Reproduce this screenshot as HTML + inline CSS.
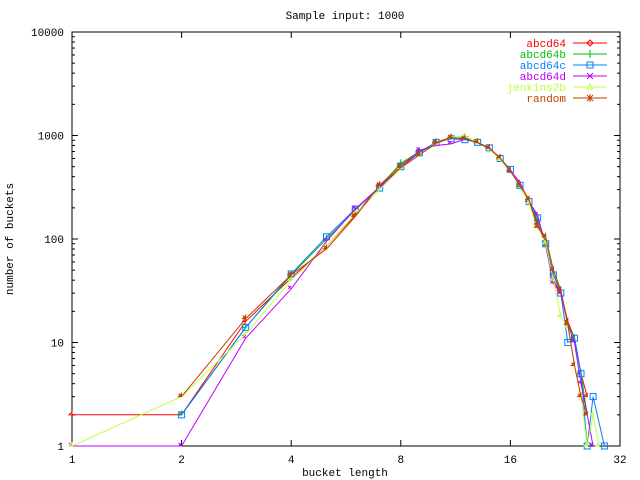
<!DOCTYPE html>
<html><head><meta charset="utf-8">
<style>
html,body{margin:0;padding:0;background:#fff;}
svg{display:block;font-family:"Liberation Mono",monospace;font-size:11px;}
</style></head>
<body>
<svg id="s" width="640" height="480" xmlns="http://www.w3.org/2000/svg"></svg>
<script>
const L=72,R=620,T=32,B=446;
const X=n=>L+109.6*Math.log2(n);
const Y=v=>B-103.5*Math.log10(v);
let h='<rect width="640" height="480" fill="#fff"/>';
h+=`<rect x="${L}" y="${T}" width="${R-L}" height="${B-T}" fill="none" stroke="#000" stroke-width="1"/>`;
// y ticks
for(let d=0;d<=4;d++){
  const v=Math.pow(10,d),y=Y(v);
  h+=`<line x1="${L}" y1="${y}" x2="${L+6}" y2="${y}" stroke="#000"/><line x1="${R}" y1="${y}" x2="${R-6}" y2="${y}" stroke="#000"/>`;
  h+=`<text x="${L-8}" y="${y+4}" text-anchor="end">${v}</text>`;
  if(d<4)for(let k=2;k<10;k++){const yy=Y(v*k);
    h+=`<line x1="${L}" y1="${yy}" x2="${L+3}" y2="${yy}" stroke="#000"/><line x1="${R}" y1="${yy}" x2="${R-3}" y2="${yy}" stroke="#000"/>`;}
}
// x ticks
for(let p=0;p<=5;p++){const v=1<<p,x=X(v);
  h+=`<line x1="${x}" y1="${B}" x2="${x}" y2="${B-6}" stroke="#000"/><line x1="${x}" y1="${T}" x2="${x}" y2="${T+6}" stroke="#000"/>`;
  h+=`<text x="${x}" y="${B+17}" text-anchor="middle">${v}</text>`;}
h+=`<text x="345" y="19" text-anchor="middle">Sample input: 1000</text>`;
h+=`<text x="345" y="476" text-anchor="middle">bucket length</text>`;
h+=`<text transform="translate(13,239) rotate(-90)" text-anchor="middle">number of buckets</text>`;
const S=[
["abcd64","#ff0000","d",{1:2,2:2,3:16,4:42,5:85,6:170,7:330,8:520,9:690,10:860,11:960,12:920,13:860,14:760,15:600,16:450,17:330,18:240,19:140,20:90,21:40,22:30,23:16,24:11,25:5,26:3}],
["abcd64b","#00c000","p",{2:2,3:14,4:45,5:100,6:190,7:320,8:540,9:700,10:850,11:940,12:950,13:850,14:740,15:590,16:460,17:320,18:230,19:150,20:95,21:45,22:32,23:15,24:11,25:5,26:2}],
["abcd64c","#0080ff","s",{2:2,3:14,4:46,5:105,6:195,7:310,8:500,9:680,10:860,11:930,12:910,13:860,14:760,15:600,16:470,17:330,18:230,19:160,20:90,21:45,22:30,23:10,24:11,25:5,26:1,27:3,29:1}],
["abcd64d","#c000ff","x",{1:1,2:1,3:11,4:33,5:95,6:195,7:320,8:480,9:720,10:800,11:830,12:920,13:860,14:740,15:590,16:460,17:350,18:230,19:170,20:85,21:37,22:30,23:15,24:10,25:4,26:2,27:1}],
["jenkins2b","#c0ff40","t",{1:1,2:3,3:12,4:40,5:85,6:175,7:300,8:480,9:650,10:830,11:960,12:990,13:870,14:740,15:580,16:450,17:330,18:220,19:130,20:90,21:40,22:18,23:14,24:6,25:3,26:1,27:2,28:1}],
["random","#c04000","a",{2:3,3:17,4:45,5:80,6:165,7:330,8:490,9:650,10:840,11:950,12:930,13:860,14:750,15:610,16:450,17:330,18:240,19:130,20:105,21:50,22:32,23:15,24:6,25:3,26:2}]
];
function mk(t,x,y,c){
  if(t=="d")return `<path d="M${x-3} ${y}L${x} ${y-3}L${x+3} ${y}L${x} ${y+3}Z" fill="none" stroke="${c}"/>`;
  if(t=="p")return `<path d="M${x-4} ${y}H${x+4}M${x} ${y-4}V${y+4}" stroke="${c}"/>`;
  if(t=="s")return `<rect x="${x-3}" y="${y-3}" width="6" height="6" fill="none" stroke="${c}"/>`;
  if(t=="x")return `<path d="M${x-3} ${y-3}L${x+3} ${y+3}M${x-3} ${y+3}L${x+3} ${y-3}" stroke="${c}"/>`;
  if(t=="t")return `<path d="M${x-3} ${y+2}L${x} ${y-3}L${x+3} ${y+2}Z" fill="none" stroke="${c}"/>`;
  return `<path d="M${x-4} ${y}H${x+4}M${x} ${y-4}V${y+4}M${x-3} ${y-3}L${x+3} ${y+3}M${x-3} ${y+3}L${x+3} ${y-3}" stroke="${c}"/>`;
}
S.forEach((s,i)=>{
  const [name,c,t,d]=s;
  const pts=Object.keys(d).map(Number).sort((a,b)=>a-b).map(n=>[X(n),Y(d[n])]);
  h+=`<polyline points="${pts.map(p=>p[0].toFixed(1)+','+p[1].toFixed(1)).join(' ')}" fill="none" stroke="${c}" stroke-width="1"/>`;
  pts.forEach(p=>h+=mk(t,p[0].toFixed(1),p[1].toFixed(1),c));
  const ly=43+i*11;
  h+=`<text x="566" y="${ly+4}" text-anchor="end" fill="${c}">${name}</text>`;
  h+=`<line x1="573" y1="${ly}" x2="607" y2="${ly}" stroke="${c}"/>`+mk(t,590,ly,c);
});
document.getElementById('s').innerHTML=h;
</script>
</body></html>
